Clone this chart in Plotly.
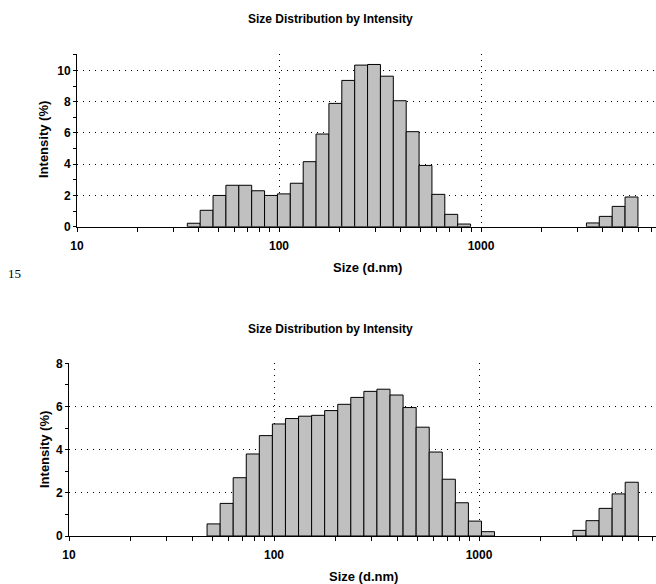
import numpy as np
import plotly.graph_objects as go

# ---------------- data ----------------
chart_title = "Size Distribution by Intensity"
x_title = "Size (d.nm)"
y_title = "Intensity (%)"
side_label = "15"

# Malvern size classes (d.nm), bar centres
sizes_top = [37.84, 43.82, 50.75, 58.77, 68.06, 78.82, 91.28, 105.7, 122.4, 141.8,
             164.2, 190.1, 220.2, 255.0, 295.3, 342.0, 396.1, 458.7, 531.2, 615.1,
             712.4, 825.0, 3580, 4145, 4801, 5560]
intensity_top = [0.22, 1.05, 2.0, 2.65, 2.65, 2.3, 2.0, 2.1, 2.78, 4.16,
                 5.93, 7.89, 9.36, 10.34, 10.38, 9.63, 8.06, 6.08, 3.92, 2.07,
                 0.79, 0.17, 0.24, 0.66, 1.3, 1.9]

sizes_bot = [50.75, 58.77, 68.06, 78.82, 91.28, 105.7, 122.4, 141.8, 164.2, 190.1,
             220.2, 255.0, 295.3, 342.0, 396.1, 458.7, 531.2, 615.1, 712.4, 825.0,
             955.4, 1106, 3091, 3580, 4145, 4801, 5560]
intensity_bot = [0.56, 1.51, 2.70, 3.80, 4.65, 5.19, 5.44, 5.55, 5.59, 5.81,
                 6.10, 6.42, 6.70, 6.80, 6.53, 5.95, 5.04, 3.89, 2.63, 1.54,
                 0.69, 0.20, 0.26, 0.71, 1.28, 1.95, 2.49]

x_tickvals = [10, 100, 1000]
x_ticktext = ["10", "100", "1000"]
BIN_RATIO = 1.1583  # ratio between neighbouring Malvern size classes

W, H = 656, 584
FONT = "Liberation Sans"


def bar_trace(sizes, vals, xa, ya):
    s = np.array(sizes, dtype=float)
    lo = s / np.sqrt(BIN_RATIO)
    hi = s * np.sqrt(BIN_RATIO)
    return go.Bar(
        x=s, y=vals, width=hi - lo, offset=lo - s,
        marker=dict(color="#c0c0c0", line=dict(color="black", width=1)),
        xaxis=xa, yaxis=ya, showlegend=False, hoverinfo="x+y",
    )


fig = go.Figure()
fig.add_trace(bar_trace(sizes_top, intensity_top, "x", "y"))
fig.add_trace(bar_trace(sizes_bot, intensity_bot, "x2", "y2"))


def px_x(p):
    return p / W


def px_y(p):
    return (H - p) / H


tickfont = dict(family=FONT, size=12, color="black", weight="bold")
grid_dash = "1px,5px"

xcommon = dict(
    type="log", tickmode="array", tickvals=x_tickvals, ticktext=x_ticktext,
    showline=True, linecolor="black", linewidth=1,
    ticks="outside", ticklen=4, tickcolor="black", tickwidth=1,
    showgrid=True, gridcolor="black", gridwidth=1, griddash=grid_dash,
    minor=dict(ticks="outside", ticklen=4, tickcolor="black", dtick="D1", showgrid=False),
    tickfont=tickfont, ticklabelstandoff=4, zeroline=False, fixedrange=True,
)
ycommon = dict(
    showline=True, linecolor="black", linewidth=1,
    ticks="outside", ticklen=3, tickcolor="black", tickwidth=1,
    showgrid=True, gridcolor="black", gridwidth=1, griddash=grid_dash,
    minor=dict(ticks="outside", ticklen=3, tickcolor="black", dtick=1, showgrid=False),
    tickfont=tickfont, zeroline=False, dtick=2, fixedrange=True,
)

fig.update_layout(
    width=W, height=H,
    margin=dict(l=0, r=0, t=0, b=0, autoexpand=False),
    paper_bgcolor="white", plot_bgcolor="white",
    font=dict(family=FONT, color="black"),
    bargap=0,
    xaxis=dict(xcommon, domain=[px_x(77), 1], range=[1, 1 + 579 / 202], anchor="y"),
    yaxis=dict(ycommon, domain=[px_y(226.7), px_y(54)], range=[0, 11.05], anchor="x"),
    xaxis2=dict(xcommon, domain=[px_x(69), 1], range=[1, 1 + 587 / 205], anchor="y2"),
    yaxis2=dict(ycommon, domain=[px_y(536), px_y(363.3)], range=[0, 8], anchor="x2"),
)

ann = []
bold = dict(family=FONT, color="black", weight="bold")
# titles
ann.append(dict(text=chart_title, x=px_x(330), y=px_y(19), font=dict(bold, size=12)))
ann.append(dict(text=chart_title, x=px_x(330), y=px_y(328.5), font=dict(bold, size=12)))
# x titles
ann.append(dict(text=x_title, x=px_x(367), y=px_y(267), font=dict(bold, size=13)))
ann.append(dict(text=x_title, x=px_x(363), y=px_y(576), font=dict(bold, size=13)))
# y titles
ann.append(dict(text=y_title, x=px_x(44), y=px_y(140), textangle=-90, font=dict(bold, size=13)))
ann.append(dict(text=y_title, x=px_x(44), y=px_y(450), textangle=-90, font=dict(bold, size=13)))
# side label
ann.append(dict(text=side_label, x=px_x(14.5), y=px_y(273),
                font=dict(family="Liberation Serif", size=13, color="black")))

for a in ann:
    a.update(xref="paper", yref="paper", xanchor="center", yanchor="middle", showarrow=False)
fig.update_layout(annotations=ann)

fig.write_html(
    "out.html",
    config={"displayModeBar": False, "staticPlot": True},
    post_script="document.body.style.margin='0';document.body.style.overflow='hidden';",
)
